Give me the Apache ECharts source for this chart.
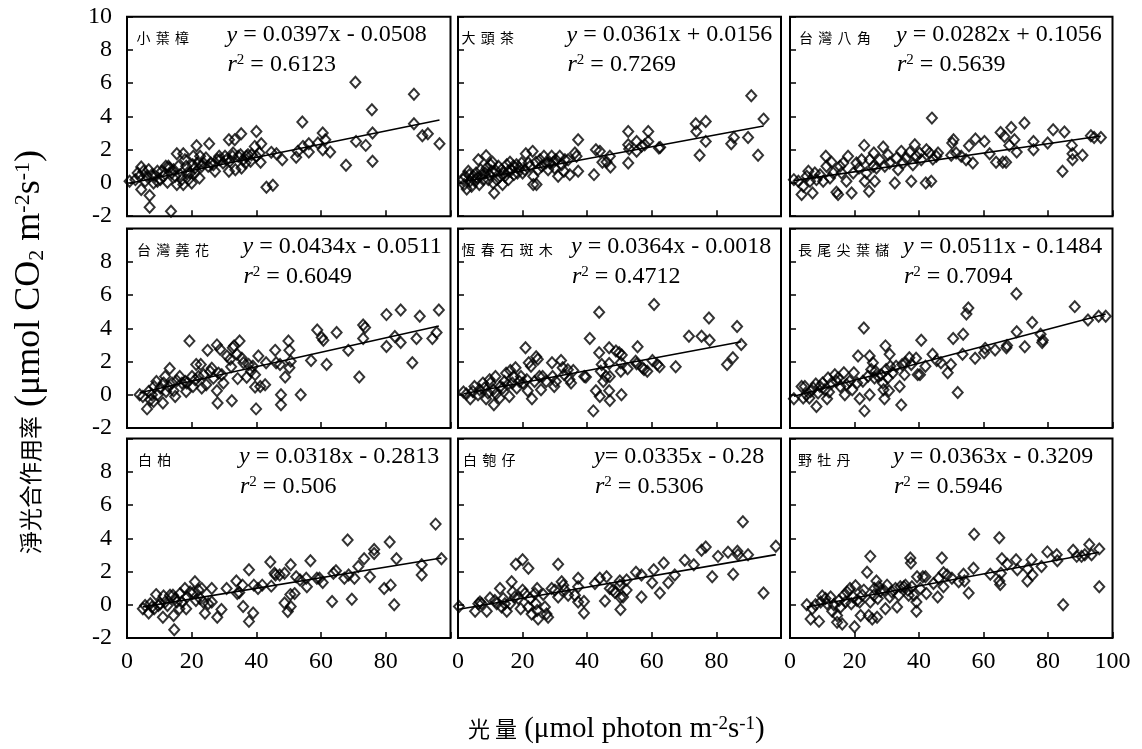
<!DOCTYPE html>
<html><head><meta charset="utf-8">
<script src="https://cdn.jsdelivr.net/npm/echarts@6/dist/echarts.min.js"></script>
<style>html,body{margin:0;padding:0;background:#fff}#c{width:1142px;height:749px}</style>
</head><body><div id="c"></div>
<script>
// ---------- DATA ----------
const speciesNames = ['小葉樟','大頭茶','台灣八角','台灣蕘花','恆春石斑木','長尾尖葉櫧','白柏','白匏仔','野牡丹'];
const slopes = [0.0397,0.0361,0.0282,0.0434,0.0364,0.0511,0.0318,0.0335,0.0363];
const intercepts = [-0.0508,0.0156,0.1056,-0.0511,-0.0018,-0.1484,-0.2813,-0.28,-0.3209];
const eqLabels = ['{i|y}{n| = 0.0397x - 0.0508}','{i|y}{n| = 0.0361x + 0.0156}','{i|y}{n| = 0.0282x + 0.1056}',
  '{i|y}{n| = 0.0434x - 0.0511}','{i|y}{n| = 0.0364x - 0.0018}','{i|y}{n| = 0.0511x - 0.1484}',
  '{i|y}{n| = 0.0318x - 0.2813}','{i|y}{n|= 0.0335x - 0.28}','{i|y}{n| = 0.0363x - 0.3209}'];
const r2Labels = ['0.6123','0.7269','0.5639','0.6049','0.4712','0.7094','0.506','0.5306','0.5946'];
const xTicks = [0,20,40,60,80,100];
const yTicks = [-2,0,2,4,6,8,10];

const data1 = [[0.8,0.1],[4.4,0.96],[3.9,0.4],[4.4,-0.4],[7.0,-0.76],[7.0,-1.46],[13.6,-1.7],[9.4,0.7],[9.4,0.1],[12.0,1.0],[12.5,0.04],[13.1,0.9],[13.8,0.6],[15.4,1.76],[15.4,-0.1],[17.4,1.76],[17.4,-0.1],[18.3,1.0],[19.5,0.6],[20.0,0.0],[20.5,1.6],[21.0,0.6],[21.5,2.24],[22.1,1.2],[22.4,0.3],[23.6,1.2],[25.4,2.36],[25.9,1.2],[27.2,0.7],[27.9,1.4],[28.5,1.6],[29.7,1.2],[30.8,1.4],[31.5,2.6],[31.5,0.7],[32.6,1.6],[33.3,2.6],[33.5,0.8],[35.1,1.7],[35.3,2.96],[35.4,0.9],[36.6,1.2],[37.4,1.7],[38.2,1.3],[39.5,2.2],[40.0,3.1],[40.0,1.6],[41.0,1.8],[41.3,1.24],[41.5,2.36],[43.1,-0.26],[45.1,-0.14],[44.6,1.84],[46.2,1.76],[48.0,1.4],[52.3,1.54],[52.8,1.9],[54.2,3.66],[54.4,2.2],[56.2,2.36],[56.2,1.86],[59.0,2.4],[60.5,3.0],[60.5,2.0],[61.3,2.6],[62.8,1.86],[67.7,1.06],[70.6,6.06],[70.8,2.5],[73.8,2.26],[75.7,4.4],[75.9,3.0],[75.9,1.3],[88.7,5.34],[88.7,3.56],[91.3,2.84],[93.0,2.96],[96.6,2.36],[2.6,0.2],[3.3,0.6],[5.1,0.7],[5.6,0.1],[6.2,0.4],[6.7,0.8],[7.7,0.5],[8.2,0.0],[8.7,0.4],[10.3,0.2],[10.8,0.7],[11.3,0.4],[12.8,1.0],[14.4,0.8],[14.9,0.4],[15.9,1.0],[16.4,0.5],[16.9,0.2],[17.9,1.4],[18.7,0.6],[19.0,0.2],[20.3,1.1],[21.0,0.9],[22.6,1.6],[23.1,1.0],[24.4,1.5],[25.1,1.0],[26.7,1.1],[28.7,1.4],[30.3,1.6],[31.8,1.3],[32.8,1.8],[34.4,1.6],[35.9,1.4],[36.9,1.6],[38.5,1.7]];

const data2 = [[1.6,0.2],[1.9,-0.1],[2.7,-0.36],[3.2,0.7],[3.7,0.1],[4.2,-0.2],[4.7,0.4],[5.6,0.6],[6.3,1.4],[6.6,-0.1],[7.0,0.8],[7.8,0.2],[8.7,1.64],[8.9,0.9],[9.7,0.5],[10.1,1.1],[10.7,1.24],[10.9,0.0],[11.2,-0.6],[11.8,0.7],[12.5,1.0],[13.0,0.4],[13.8,-0.1],[14.2,0.6],[15.1,1.1],[15.6,0.2],[16.1,1.24],[16.6,0.8],[17.3,0.5],[18.1,1.1],[19.0,0.9],[20.0,0.6],[21.0,1.76],[21.8,1.2],[22.3,1.0],[23.1,1.9],[23.3,0.4],[23.3,-0.1],[24.1,1.24],[24.3,-0.1],[24.8,0.8],[25.9,1.0],[26.6,1.6],[27.2,1.2],[27.9,0.8],[29.0,1.6],[29.5,1.24],[30.3,1.4],[31.0,0.4],[31.5,1.6],[32.1,1.1],[32.8,0.7],[34.1,1.4],[34.6,0.5],[36.2,1.8],[36.7,1.6],[37.2,0.7],[37.2,2.6],[42.1,0.5],[42.7,2.0],[43.9,1.9],[44.7,1.24],[46.0,1.26],[47.0,1.6],[47.2,0.96],[52.7,3.1],[52.7,2.3],[52.7,1.2],[53.0,2.04],[55.3,2.5],[55.3,1.9],[56.8,2.2],[57.8,2.3],[58.9,3.1],[58.9,2.5],[62.2,2.1],[62.6,2.14],[73.6,3.56],[73.8,3.1],[74.8,1.66],[76.7,3.7],[76.7,2.5],[84.6,2.36],[85.4,2.74],[89.8,2.74],[90.8,5.24],[92.9,1.66],[94.6,3.84],[2.2,0.4],[3.5,0.5],[5.3,0.1],[6.0,0.3],[7.3,0.5],[8.4,0.6],[9.4,0.2],[10.4,0.7],[12.0,0.2],[13.5,0.8],[14.5,0.4],[15.6,0.7],[17.1,1.0],[18.4,0.6],[19.7,1.2],[20.7,0.8],[25.4,1.4],[28.5,1.2],[29.9,0.9],[33.1,1.4]];

const data3 = [[1.2,0.2],[2.6,0.1],[3.6,-0.7],[4.1,-0.2],[5.2,0.4],[5.7,0.7],[6.2,0.1],[7.0,-0.6],[7.7,0.6],[8.2,0.2],[9.3,0.5],[10.3,0.1],[11.1,1.6],[11.3,1.0],[12.4,0.3],[12.9,1.24],[13.4,0.6],[14.4,-0.56],[14.9,-0.7],[15.5,1.0],[16.0,0.6],[16.5,1.2],[17.5,0.1],[18.0,1.6],[19.1,-0.6],[19.6,0.6],[20.6,1.2],[21.4,0.9],[22.2,1.4],[23.0,2.26],[23.2,0.1],[23.7,0.6],[24.5,-0.5],[24.7,1.4],[25.8,1.0],[26.0,1.8],[26.3,0.1],[26.8,0.9],[27.8,1.4],[28.9,2.16],[29.4,1.0],[30.4,1.7],[30.9,1.2],[32.5,0.0],[33.0,1.5],[33.5,0.8],[34.5,1.9],[35.1,1.2],[36.1,1.5],[37.1,1.84],[37.6,0.1],[38.1,1.1],[38.7,2.3],[39.2,1.6],[40.2,1.8],[40.7,1.4],[42.1,0.0],[42.3,2.0],[43.3,1.8],[43.8,0.1],[44.0,3.9],[44.3,1.44],[45.4,1.6],[45.9,1.8],[50.0,1.66],[50.3,2.4],[50.7,2.6],[51.5,1.8],[53.1,1.6],[54.6,1.4],[55.5,2.24],[56.7,1.2],[57.5,2.64],[60.3,2.5],[61.9,1.76],[63.9,1.24],[65.3,3.04],[66.0,1.24],[66.5,2.8],[67.0,1.24],[68.0,2.26],[68.6,3.34],[69.6,2.6],[70.3,1.86],[72.7,3.6],[75.5,2.5],[75.5,2.0],[79.9,2.4],[81.6,3.2],[84.5,0.7],[85.1,3.06],[87.4,2.26],[87.6,1.76],[87.6,1.4],[90.7,1.66],[93.3,2.84],[94.3,2.74],[96.4,2.74]];

const data4 = [[3.9,0.0],[4.9,-0.1],[6.2,-0.85],[6.7,0.2],[7.2,-0.3],[7.7,0.0],[8.2,-0.4],[8.4,0.5],[9.1,0.8],[9.5,0.0],[10.3,0.4],[11.1,-0.5],[11.3,0.7],[11.8,1.1],[12.1,0.2],[12.9,0.5],[13.2,1.58],[13.9,0.7],[14.4,0.24],[14.9,-0.1],[15.4,0.85],[16.3,1.1],[17.0,0.7],[18.0,0.8],[18.3,0.2],[18.5,0.7],[19.3,3.24],[20.1,1.1],[20.4,0.5],[21.1,0.9],[21.4,1.82],[22.1,1.1],[22.8,1.82],[23.1,0.4],[23.7,1.2],[24.5,0.6],[24.9,2.67],[25.7,1.4],[26.2,1.6],[26.7,1.0],[27.8,3.0],[27.8,0.24],[28.0,-0.5],[28.3,1.3],[28.8,2.73],[29.3,1.2],[29.8,0.7],[30.9,2.33],[31.9,2.13],[32.2,1.68],[32.4,-0.36],[32.7,2.83],[33.1,2.94],[34.0,2.43],[34.2,0.97],[34.8,3.24],[35.5,2.19],[36.0,1.92],[37.0,1.05],[37.6,1.82],[38.3,1.42],[38.9,1.72],[39.6,1.21],[39.6,0.47],[39.9,-0.85],[40.6,2.33],[41.2,0.5],[42.7,0.6],[43.0,1.92],[45.8,2.67],[46.1,1.92],[47.3,1.82],[47.6,0.0],[47.6,-0.6],[48.9,1.07],[49.9,3.24],[50.2,2.67],[50.2,1.62],[50.6,2.02],[53.7,0.0],[56.9,2.06],[58.8,3.89],[60.2,3.44],[60.7,3.28],[61.7,1.82],[64.8,3.74],[68.4,2.67],[71.8,1.07],[73.0,4.2],[73.6,4.05],[73.0,3.38],[80.2,2.9],[80.2,4.82],[82.8,3.5],[84.6,3.14],[84.6,5.1],[88.2,1.92],[89.5,3.38],[90.5,4.72],[94.4,3.38],[95.7,3.74],[96.4,5.1]];

const data5 = [[1.7,0.16],[2.6,0.04],[3.8,-0.24],[4.6,0.2],[5.1,0.5],[6.2,0.0],[6.7,0.3],[7.7,0.7],[8.2,0.4],[8.7,-0.24],[9.3,0.1],[9.8,0.91],[10.0,0.7],[10.8,0.3],[11.1,-0.6],[11.6,1.1],[11.8,0.04],[12.9,-0.2],[13.1,0.5],[13.9,0.4],[14.4,0.8],[14.9,1.3],[15.4,0.6],[15.9,-0.1],[16.2,1.46],[16.8,0.7],[17.2,1.1],[17.8,1.62],[18.2,0.4],[19.0,0.8],[19.5,1.1],[20.1,0.7],[20.9,2.83],[21.3,0.91],[21.6,0.24],[21.9,1.92],[22.6,1.72],[22.9,-0.24],[23.7,0.8],[24.2,2.29],[24.7,2.13],[25.2,1.1],[25.7,0.3],[26.2,1.1],[27.3,0.8],[29.1,1.92],[29.3,1.1],[29.8,0.5],[30.3,0.8],[31.9,2.06],[32.4,1.62],[32.9,1.2],[34.0,1.5],[34.5,0.91],[35.0,0.7],[35.7,1.46],[39.1,1.1],[39.6,1.07],[40.8,3.38],[41.9,-0.97],[42.7,0.24],[43.7,4.96],[43.7,2.53],[43.9,-0.1],[44.2,1.42],[44.5,1.82],[45.0,0.8],[45.8,1.1],[46.8,2.83],[46.8,1.88],[46.8,0.24],[47.0,-0.34],[47.0,1.1],[48.9,2.63],[49.9,2.53],[50.4,1.92],[50.4,1.42],[50.6,0.0],[50.7,2.39],[52.5,1.56],[55.0,2.02],[55.3,1.86],[55.6,2.89],[57.1,1.62],[57.6,1.52],[58.6,1.42],[60.2,2.06],[60.7,5.43],[61.7,1.82],[62.4,1.68],[67.4,1.68],[71.5,3.52],[75.4,3.52],[77.7,4.62],[77.9,3.28],[83.3,1.82],[85.1,2.23],[86.4,4.11],[87.7,3.02]];

const data6 = [[1.2,-0.24],[3.6,0.5],[4.1,-0.2],[4.6,0.5],[5.1,0.0],[6.0,-0.2],[6.4,0.2],[7.2,0.4],[8.0,0.65],[8.2,-0.71],[8.7,0.1],[9.3,0.5],[10.1,0.71],[10.8,0.3],[11.5,-0.24],[11.8,1.01],[12.1,0.16],[12.9,0.71],[13.9,1.21],[14.4,0.81],[14.9,1.01],[15.6,0.5],[16.7,1.32],[17.0,0.0],[17.5,0.61],[18.5,0.81],[19.3,0.3],[19.8,1.32],[20.8,0.71],[21.1,2.33],[21.6,-0.24],[22.6,0.81],[22.9,4.01],[23.1,-0.97],[24.2,1.11],[24.7,2.33],[24.7,0.0],[25.2,1.52],[25.7,1.92],[26.2,1.01],[26.5,1.42],[27.3,1.11],[28.3,1.21],[28.8,0.71],[29.0,0.3],[29.3,-0.24],[29.6,2.94],[29.8,1.52],[30.3,1.01],[30.7,0.24],[30.9,2.43],[31.1,1.72],[31.9,1.32],[32.9,1.72],[34.0,0.5],[34.5,-0.61],[34.8,1.82],[35.5,1.21],[35.8,1.92],[37.0,2.23],[37.6,1.82],[39.1,2.19],[39.6,1.21],[40.3,1.21],[40.7,3.28],[42.0,1.72],[44.2,2.43],[45.5,2.06],[46.8,1.92],[48.9,1.32],[49.9,1.82],[50.6,3.38],[52.0,0.14],[53.5,2.43],[53.7,3.64],[54.7,4.86],[55.3,5.22],[57.4,2.19],[60.2,2.53],[60.5,2.79],[63.6,2.69],[67.1,2.83],[67.3,2.96],[70.2,6.07],[70.3,3.79],[72.8,2.89],[75.1,4.35],[77.7,3.64],[78.2,3.14],[78.4,3.28],[88.3,5.3],[92.4,4.49],[95.7,4.72],[97.9,4.72]];

const data7 = [[4.9,-0.24],[5.6,-0.04],[6.7,-0.49],[7.2,0.06],[7.7,-0.14],[8.4,-0.24],[9.0,0.61],[9.7,-0.04],[10.3,0.06],[11.1,-0.75],[11.3,0.53],[11.8,0.16],[12.5,-0.04],[13.3,0.57],[14.2,0.57],[14.4,-0.65],[14.6,-1.51],[14.9,0.37],[15.4,0.16],[16.2,-0.24],[16.4,0.67],[16.9,0.16],[17.9,0.98],[18.3,-0.24],[18.5,0.47],[19.5,0.77],[20.5,0.73],[21.0,1.38],[21.3,0.26],[22.1,0.88],[22.6,0.37],[23.1,0.98],[23.6,0.16],[24.1,-0.51],[25.1,0.06],[26.2,0.98],[26.2,0.16],[27.9,-0.75],[29.2,-0.29],[30.8,0.98],[33.8,1.43],[34.1,0.67],[34.7,0.73],[35.7,1.18],[35.9,-0.1],[37.7,2.1],[37.7,-1.0],[39.0,-0.49],[39.2,1.18],[40.5,0.98],[41.8,1.18],[44.3,2.57],[44.6,1.12],[45.6,1.89],[45.9,1.79],[47.2,1.79],[48.7,0.1],[48.7,1.89],[49.7,-0.41],[50.5,0.61],[50.6,2.4],[50.6,-0.1],[51.8,0.67],[52.3,1.69],[53.5,1.49],[55.4,1.59],[55.6,1.08],[56.7,2.65],[58.7,1.59],[59.5,1.59],[60.5,1.34],[63.4,0.2],[63.8,1.89],[64.6,2.04],[67.2,1.59],[68.2,3.89],[68.5,1.79],[69.5,0.33],[70.3,1.59],[71.5,2.3],[73.3,2.77],[75.1,1.69],[76.4,3.32],[76.4,3.08],[79.5,0.98],[81.2,3.77],[81.5,1.18],[82.6,0.0],[83.3,2.77],[91.1,2.4],[91.1,1.79],[95.4,4.85],[97.2,2.77]];

const data8 = [[0.3,-0.1],[5.3,-0.39],[6.3,0.06],[6.8,0.16],[7.3,0.06],[8.9,-0.39],[9.9,0.41],[11.4,0.26],[12.0,0.06],[13.0,0.98],[13.5,-0.14],[14.0,0.37],[14.5,0.06],[15.1,-0.39],[16.1,0.06],[16.6,1.38],[16.9,0.77],[17.6,0.47],[17.9,2.44],[18.7,0.37],[19.4,-0.24],[20.0,2.71],[20.0,0.88],[20.7,0.67],[21.8,2.2],[21.8,-0.14],[22.3,0.37],[22.8,-0.55],[23.8,0.67],[24.1,0.06],[24.5,0.98],[24.5,-0.35],[24.8,-0.86],[26.4,0.61],[26.9,-0.14],[27.4,-0.55],[27.9,-0.75],[29.0,0.98],[30.0,0.88],[31.0,2.44],[31.0,0.47],[32.1,1.38],[32.6,1.18],[33.1,0.88],[34.1,0.57],[36.2,0.57],[37.2,1.59],[37.2,1.08],[37.2,0.16],[39.0,0.2],[39.0,-0.49],[42.4,1.28],[43.9,1.59],[45.5,0.22],[46.0,1.69],[47.0,0.98],[48.0,0.88],[48.6,0.73],[50.1,1.43],[50.1,1.18],[50.3,0.43],[50.3,-0.29],[51.1,0.47],[52.2,1.49],[52.2,0.88],[55.1,1.96],[56.8,1.79],[56.8,0.47],[60.1,1.32],[60.6,2.1],[62.5,0.71],[63.7,2.51],[65.1,1.32],[67.1,1.79],[70.2,2.67],[73.0,2.4],[75.4,3.28],[76.7,3.48],[78.7,1.69],[80.5,2.91],[83.6,3.16],[85.2,1.83],[86.5,3.22],[86.7,3.01],[88.2,4.99],[89.8,3.01],[94.6,0.71],[98.4,3.52]];

const data9 = [[5.2,0.0],[6.4,-0.86],[6.9,-0.24],[7.9,0.0],[9.0,-1.0],[9.5,0.16],[10.0,0.53],[11.0,0.37],[11.5,0.06],[12.6,0.47],[13.1,-0.39],[13.6,0.0],[14.6,-0.65],[14.6,-1.06],[15.2,0.26],[15.7,-0.14],[16.2,-1.16],[16.7,0.57],[17.2,0.16],[17.7,0.77],[18.6,0.98],[19.0,0.06],[19.6,0.47],[20.0,-1.32],[20.3,1.14],[20.8,0.26],[21.6,0.16],[21.9,-0.65],[22.4,0.57],[22.9,0.88],[23.9,1.96],[24.4,-0.65],[24.9,2.91],[24.9,0.16],[25.5,-0.86],[26.0,0.57],[26.2,0.98],[26.8,1.43],[27.0,-0.75],[27.2,0.37],[27.5,1.08],[28.0,0.81],[29.1,0.88],[29.6,-0.24],[30.1,1.18],[30.9,0.47],[31.6,0.77],[32.7,0.98],[33.2,-0.14],[33.7,0.57],[34.2,1.08],[35.3,1.08],[35.8,1.18],[36.5,0.88],[36.8,0.57],[37.3,2.81],[37.5,2.51],[37.8,1.08],[38.4,0.57],[39.2,0.16],[39.2,-0.39],[39.4,1.69],[40.4,0.98],[41.2,1.69],[42.0,1.69],[42.3,0.67],[44.5,1.28],[45.8,0.47],[46.1,1.59],[47.1,2.81],[47.6,1.08],[47.6,1.93],[48.7,1.79],[50.2,1.59],[52.3,1.38],[53.8,1.83],[54.1,1.43],[55.4,0.71],[56.9,2.2],[57.1,4.24],[62.1,1.83],[64.9,4.03],[64.9,1.43],[65.2,1.22],[65.4,1.89],[65.7,2.77],[67.4,2.44],[70.1,2.71],[70.5,2.1],[73.7,2.16],[73.6,1.43],[74.9,2.71],[75.2,1.79],[78.0,2.3],[79.8,3.18],[82.7,3.01],[82.9,2.65],[84.7,0.0],[87.8,3.28],[88.9,2.91],[90.4,2.91],[91.4,3.01],[92.8,3.63],[93.5,3.01],[95.9,3.36],[95.9,1.08]];

const panelData = [data1,data2,data3,data4,data5,data6,data7,data8,data9];

// ---------- LAYOUT ----------
const colLeft = [127, 458, 790], colW = [323.5, 323, 322.5];
const rowTop = [16.7, 228.5, 438.5], rowH = 199.5;
const nameX = [136.5, 461.5, 799, 137, 461.5, 798, 138, 463, 798];
const eqX = [226.5, 566.5, 896, 242.5, 571, 903, 239, 594, 893];
const SERIF = "'Liberation Serif','Times New Roman',serif";
const CJK = "'Noto Sans CJK TC','Noto Sans CJK SC',sans-serif";

const grids = [], xAxes = [], yAxes = [], series = [], graphics = [];
for (let i = 0; i < 9; i++) {
  const r = Math.floor(i / 3), c = i % 3;
  grids.push({left: colLeft[c], top: rowTop[r], width: colW[c], height: rowH,
    show: true, borderColor: '#000', borderWidth: 2, backgroundColor: '#fff', containLabel: false, outerBoundsMode: 'none'});
  xAxes.push({gridIndex: i, type: 'value', min: xTicks[0], max: xTicks[xTicks.length-1], interval: 20,
    axisLine: {show: false, onZero: false}, splitLine: {show: false},
    axisTick: {show: true, inside: true, length: 6, lineStyle: {color: '#000', width: 1.5}},
    axisLabel: {show: r === 2, margin: 12, color: '#000', fontFamily: SERIF, fontSize: 24,
      formatter: v => (c < 2 && v === 100) ? '' : String(v)}});
  yAxes.push({gridIndex: i, type: 'value', min: yTicks[0], max: yTicks[yTicks.length-1], interval: 2,
    axisLine: {show: false, onZero: false}, splitLine: {show: false},
    axisTick: {show: true, inside: true, length: 6, lineStyle: {color: '#000', width: 1.5}},
    axisLabel: {show: c === 0, margin: 15, color: '#000', fontFamily: SERIF, fontSize: 24,
      formatter: v => (r > 0 && v === 10) ? '' : String(v)}});
  const d = panelData[i];
  series.push({type: 'scatter', xAxisIndex: i, yAxisIndex: i, data: d, symbol: 'diamond', symbolSize: [10, 11],
    itemStyle: {color: 'rgba(0,0,0,0)', borderColor: '#000', borderWidth: 2}, silent: true, z: 3});
  const xs = d.map(p => p[0]);
  const x0 = Math.min(...xs), x1 = Math.max(...xs);
  series.push({type: 'line', xAxisIndex: i, yAxisIndex: i, symbol: 'none', silent: true, z: 2,
    data: [[x0, slopes[i]*x0 + intercepts[i]], [x1, slopes[i]*x1 + intercepts[i]]],
    lineStyle: {color: '#000', width: 1.6}});
  const chars = Array.from(speciesNames[i]);
  chars.forEach((ch, k) => graphics.push({type: 'text', x: nameX[i] + k * 19.3, y: rowTop[r] + 21,
    style: {text: ch, font: '14px ' + CJK, fill: '#000', align: 'left', verticalAlign: 'middle', textAlign: 'left', textVerticalAlign: 'middle'}}));
  const rich = {
    i: {fontFamily: SERIF, fontSize: 24, fontStyle: 'italic', color: '#000'},
    n: {fontFamily: SERIF, fontSize: 24, color: '#000'},
    sup: {fontFamily: SERIF, fontSize: 15, color: '#000', verticalAlign: 'top'}
  };
  graphics.push({type: 'text', x: eqX[i], y: rowTop[r] + 18.5,
    style: {text: eqLabels[i], rich: rich, fill: '#000', font: '24px ' + SERIF,
      align: 'left', verticalAlign: 'middle', textAlign: 'left', textVerticalAlign: 'middle'}});
  graphics.push({type: 'text', x: eqX[i] + 1, y: rowTop[r] + 48,
    style: {text: '{i|r}{sup|2}{n| = ' + r2Labels[i] + '}', rich: rich, fill: '#000', font: '24px ' + SERIF,
      align: 'left', verticalAlign: 'middle', textAlign: 'left', textVerticalAlign: 'middle'}});
}

const titleRich = {
  c: {fontFamily: CJK, fontSize: 22, color: '#000'},
  t: {fontFamily: SERIF, fontSize: 29, color: '#000'},
  sub: {fontFamily: SERIF, fontSize: 19, color: '#000', verticalAlign: 'bottom'},
  sup: {fontFamily: SERIF, fontSize: 19, color: '#000', verticalAlign: 'top'}
};
const yRich = {
  c: {fontFamily: CJK, fontSize: 23, color: '#000'},
  t: {fontFamily: SERIF, fontSize: 36, color: '#000'},
  sub: {fontFamily: SERIF, fontSize: 22, color: '#000', verticalAlign: 'bottom'},
  sup: {fontFamily: SERIF, fontSize: 22, color: '#000', verticalAlign: 'top'}
};
graphics.push({type: 'text', x: 468, y: 729,
  style: {text: '{c|光 量} {t|(μmol photon m}{sup|-2}{t|s}{sup|-1}{t|)}', rich: titleRich, font: '29px ' + SERIF, fill: '#000',
    align: 'left', verticalAlign: 'middle', textAlign: 'left', textVerticalAlign: 'middle'}});
graphics.push({type: 'text', x: 30, y: 554, rotation: Math.PI / 2,
  style: {text: '{c|淨光合作用率} {t|(μmol CO}{sub|2}{t| m}{sup|-2}{t|s}{sup|-1}{t|)}', rich: yRich, font: '36px ' + SERIF, fill: '#000',
    align: 'left', verticalAlign: 'middle', textAlign: 'left', textVerticalAlign: 'middle'}});

const chart = echarts.init(document.getElementById('c'), null, {renderer: 'canvas'});
chart.setOption({
  animation: false,
  backgroundColor: '#fff',
  grid: grids, xAxis: xAxes, yAxis: yAxes, series: series,
  graphic: {elements: graphics}
});
</script></body></html>
